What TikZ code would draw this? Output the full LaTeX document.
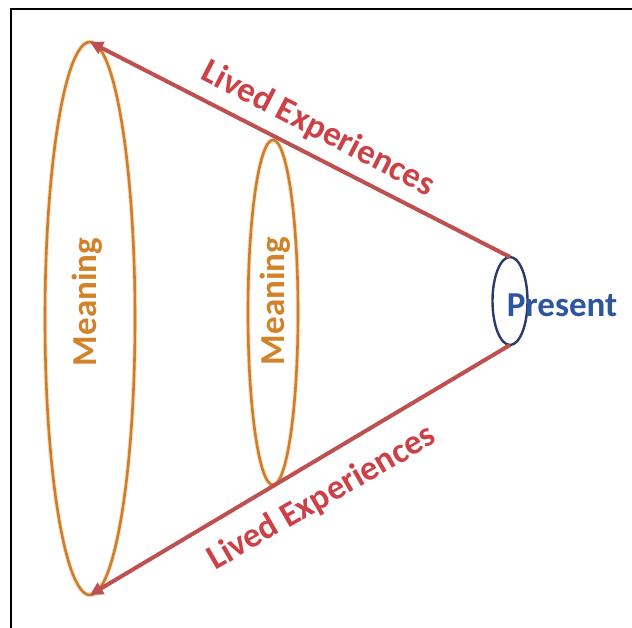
\documentclass[tikz,border=0pt]{standalone}
\usepackage{fontspec}
\setmainfont{Carlito}
\usetikzlibrary{shapes.geometric,arrows.meta}
\definecolor{ringorange}{RGB}{205,125,45}
\definecolor{glow}{RGB}{252,225,190}
\definecolor{arrowred}{RGB}{190,80,80}
\definecolor{textred}{RGB}{205,65,70}
\definecolor{meanorange}{RGB}{210,130,40}
\definecolor{presblue}{RGB}{45,85,160}
\definecolor{ringnavy}{RGB}{40,60,105}
\tikzset{
  ring/.style={ellipse, draw=ringorange, line width=2.6pt, inner sep=0pt, outer sep=0pt,
    preaction={draw=glow, line width=4.5pt}},
  presring/.style={ellipse, draw=ringnavy, line width=2.4pt, inner sep=0pt, outer sep=0pt},
  link/.style={draw=arrowred, line width=4pt, -{Triangle[length=13pt,width=13pt]}},
  big/.style={font=\bfseries\fontsize{35}{40}\selectfont},
  livedlbl/.style={big, text=textred, inner sep=0pt},
  meanlbl/.style={big, text=meanorange, inner sep=0pt},
  preslbl/.style={big, text=presblue, inner sep=0pt},
}
\begin{document}
\begin{tikzpicture}[x=1pt,y=-1pt]
\useasboundingbox (0,0) rectangle (632,628);
\fill[white] (0,0) rectangle (632,628);
\draw[black, line width=2pt] (11,640) -- (11,9) -- (640,9);

\node[ring, minimum width=90pt, minimum height=553pt] (bigring) at (90,318.5) {};
\node[ring, minimum width=50pt, minimum height=345pt] (smallring) at (273,312.5) {};
\node[presring, minimum width=35pt, minimum height=88pt] (presring) at (510,301) {};

\draw[link] (presring.north) -- (bigring.north);
\draw[link] (presring.south) -- (bigring.south);

\node[meanlbl, rotate=90] (mean1) at (87,302) {Meaning};
\node[meanlbl, rotate=90] (mean2) at (275,301) {Meaning};
\node[preslbl] (present) at (562,305) {Present};

\node[livedlbl, rotate=-27.3] (lived1) at (318,129) {Lived Experiences};
\node[livedlbl, rotate=30] (lived2) at (322,498) {Lived Experiences};
\end{tikzpicture}
\end{document}
